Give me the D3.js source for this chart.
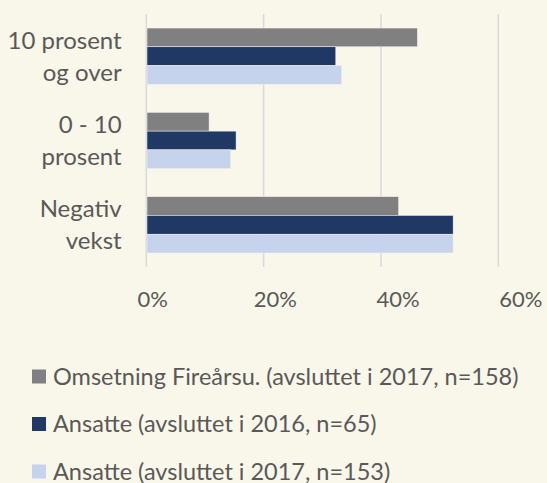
<!DOCTYPE html>
<html>
    <head>
        <meta charset="utf-8">
        <title>Vekst</title>
        <script type="text/javascript" src="https://d3js.org/d3.v7.min.js"></script>
        <style>
            body { margin: 0; background: #f9f6ea; }
            text { font-family: Lato, Carlito, sans-serif; fill: #595959; }
        </style>
    </head>
    <body>
        <script type="text/javascript">
            let width = 547;
            let height = 483;

            let categories = ['10 prosent og over', '0 - 10 prosent', 'Negativ vekst'];
            let categoryLines = [['10 prosent', 'og over'], ['0 - 10', 'prosent'], ['Negativ', 'vekst']];
            let seriesNames = [
                'Omsetning Fireårsu. (avsluttet i 2017, n=158)',
                'Ansatte (avsluttet i 2016, n=65)',
                'Ansatte (avsluttet i 2017, n=153)'
            ];
            let omsetning2017 = [46.2, 10.7, 43.0];
            let ansatte2016 = [32.3, 15.3, 52.3];
            let ansatte2017 = [33.3, 14.4, 52.3];
            let ticks = [0, 20, 40, 60];
            let colors = ['#808080', '#203864', '#c5d3ec'];

            let series = [omsetning2017, ansatte2016, ansatte2017];

            let svg = d3.select('body')
                .append('svg')
                .attr('width', width)
                .attr('height', height)
                .style('background-color', '#f9f6ea');

            let x = d3.scaleLinear().domain([0, 60]).range([146.3, 498.3]);
            // tick labels in the original sit a little wider than the gridlines
            let xLabel = d3.scaleLinear().domain([0, 60]).range([152.7, 520.8]);
            let y = d3.scaleBand().domain(categories).range([14, 267]).paddingInner(0.333).paddingOuter(0.1665);
            let ySub = d3.scaleBand().domain([0, 1, 2]).range([0, y.bandwidth()]);

            // gridlines
            svg.append('g')
                .selectAll('line')
                .data(ticks)
                .enter()
                .append('line')
                    .attr('x1', d => x(d))
                    .attr('x2', d => x(d))
                    .attr('y1', 14)
                    .attr('y2', 267)
                    .attr('stroke', '#d9d9d9')
                    .attr('stroke-width', 1.5);

            // bars
            series.forEach((values, s) => {
                svg.append('g')
                    .selectAll('rect')
                    .data(values)
                    .enter()
                    .append('rect')
                        .attr('x', x(0) + 0.7)
                        .attr('y', (d, i) => y(categories[i]) + ySub(s))
                        .attr('width', d => x(d) - x(0) - 0.7)
                        .attr('height', ySub.bandwidth())
                        .attr('fill', colors[s])
                        .attr('stroke', '#f4f4f4')
                        .attr('stroke-width', 0.5);
            });

            // category labels
            let catLabels = svg.append('g')
                .selectAll('text')
                .data(categories)
                .enter()
                .append('text')
                    .attr('text-anchor', 'end')
                    .style('font-size', '24px');
            catLabels.each(function(d, i) {
                let c = y(d) + y.bandwidth() / 2;
                d3.select(this).selectAll('tspan')
                    .data(categoryLines[i])
                    .enter()
                    .append('tspan')
                        .attr('x', 121.7)
                        .attr('y', (t, j) => c + (j === 0 ? -16 : 16))
                        .attr('dy', '0.35em')
                        .text(t => t);
            });

            // x tick labels
            svg.append('g')
                .selectAll('text')
                .data(ticks)
                .enter()
                .append('text')
                    .attr('x', d => xLabel(d))
                    .attr('y', 299)
                    .attr('dy', '0.35em')
                    .attr('text-anchor', 'middle')
                    .style('font-size', '22px')
                    .text(d => d + '%');

            // legend
            let legend = svg.append('g')
                .selectAll('g')
                .data(seriesNames)
                .enter()
                .append('g')
                    .attr('transform', (d, i) => `translate(32, ${376.5 + i * 47.5})`);
            legend.append('rect')
                .attr('x', 0)
                .attr('y', -7)
                .attr('width', 14)
                .attr('height', 14)
                .attr('fill', (d, i) => colors[i]);
            legend.append('text')
                .attr('x', 21)
                .attr('y', 0)
                .attr('dy', '0.35em')
                .style('font-size', '23.5px')
                .text(d => d);
        </script>
    </body>
</html>
